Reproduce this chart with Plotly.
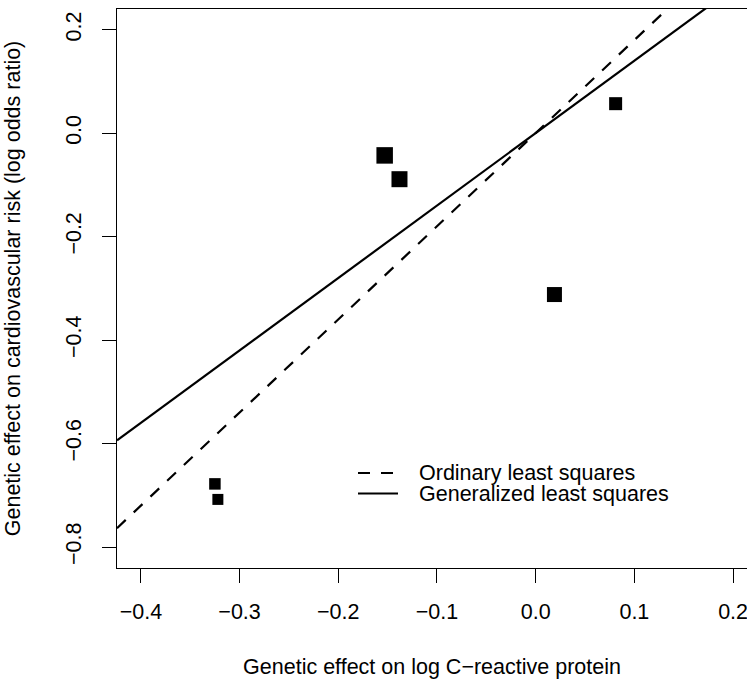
import numpy as np
import plotly.graph_objects as go

# ---- data ----
crp_effect = [-0.325, -0.322, -0.153, -0.138, 0.019, 0.081]
cvd_effect = [-0.678, -0.708, -0.043, -0.089, -0.312, 0.057]
point_size_px = [11.5, 11, 16.5, 16, 15, 13]

ols_slope = 1.80   # ordinary least squares (through origin)
gls_slope = 1.40   # generalized least squares (through origin)

legend_labels = ["Ordinary least squares", "Generalized least squares"]

x_ticks = [-0.4, -0.3, -0.2, -0.1, 0.0, 0.1, 0.2]
y_ticks = [-0.8, -0.6, -0.4, -0.2, 0.0, 0.2]
x_range = [-0.4242, 0.2141]
y_range = [-0.8406, 0.2400]

FONT = "Liberation Sans, Arial, Helvetica, sans-serif"
FS = 21.5

W, H = 747, 679
ML, MR, MT, MB = 117, 0, 9, 111
PW, PH = W - ML - MR, H - MT - MB


def px_x(p):
    return (p - ML) / PW


def px_y(p):
    return (H - MB - p) / PH


line_x = np.array(x_range)

fig = go.Figure()
fig.add_trace(go.Scatter(
    x=line_x, y=ols_slope * line_x, mode="lines",
    line=dict(color="black", width=2.2, dash="12px,11px"),
    name=legend_labels[0], showlegend=False))
fig.add_trace(go.Scatter(
    x=line_x, y=gls_slope * line_x, mode="lines",
    line=dict(color="black", width=2.2),
    name=legend_labels[1], showlegend=False))
fig.add_trace(go.Scatter(
    x=crp_effect, y=cvd_effect, mode="markers",
    marker=dict(symbol="square", size=point_size_px, color="#000000",
                opacity=1, line=dict(width=0)),
    showlegend=False))

# manual legend (R style, no box)
legend_rows_px = [473, 493.5]
dashes = ["12px,11px", "solid"]
for lab, yy, dsh in zip(legend_labels, legend_rows_px, dashes):
    fig.add_shape(type="line", xref="paper", yref="paper",
                  x0=px_x(358), x1=px_x(398), y0=px_y(yy), y1=px_y(yy),
                  line=dict(color="black", width=2.2, dash=dsh))
    fig.add_annotation(xref="paper", yref="paper", x=px_x(417), y=px_y(yy),
                       xanchor="left", yanchor="middle", text=lab,
                       showarrow=False,
                       font=dict(family=FONT, size=FS, color="black"))

fig.update_layout(
    width=W, height=H,
    margin=dict(l=ML, r=MR, t=MT, b=MB),
    paper_bgcolor="white", plot_bgcolor="white",
    font=dict(family=FONT, size=FS, color="black"),
    showlegend=False,
    xaxis=dict(range=x_range, tickvals=x_ticks, tickformat=".1f",
               showgrid=False, zeroline=False, automargin=False,
               showline=True, linecolor="black", linewidth=1, mirror=True,
               ticks="outside", ticklen=14, tickwidth=1, tickcolor="black",
               ticklabelstandoff=10, ticklabeloverflow="allow",
               title=dict(text="Genetic effect on log C\u2212reactive protein",
                          font=dict(size=FS), standoff=46)),
    yaxis=dict(range=y_range, tickvals=y_ticks, tickformat=".1f",
               showgrid=False, zeroline=False, automargin=False,
               showline=True, linecolor="black", linewidth=1, mirror=False,
               ticks="outside", ticklen=14, tickwidth=1, tickcolor="black",
               tickangle=-90, ticklabelstandoff=12, ticklabeloverflow="allow",
               title=dict(text="Genetic effect on cardiovascular risk (log odds ratio)",
                          font=dict(size=FS), standoff=35)),
)

fig.write_html(
    "out.html",
    config={"displayModeBar": False},
    post_script="document.body.style.margin='0';document.body.style.overflow='hidden';",
)
